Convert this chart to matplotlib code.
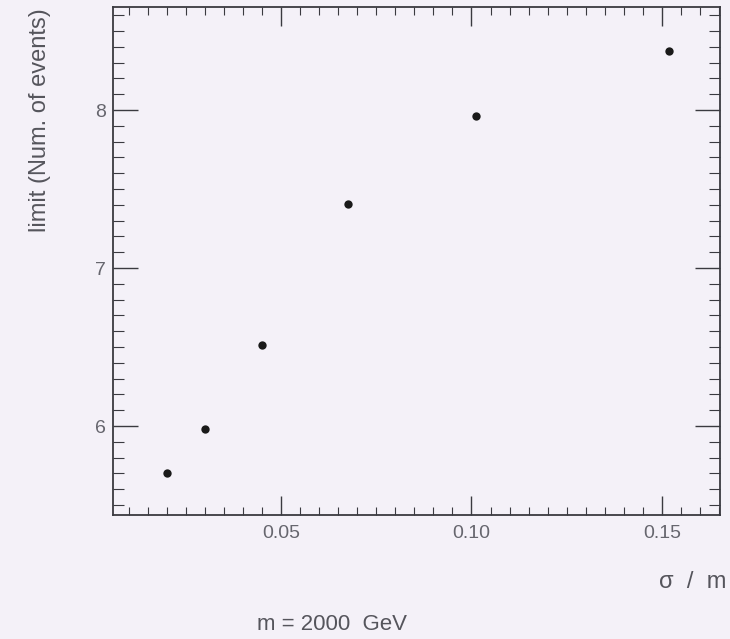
import matplotlib
matplotlib.use("Agg")
import matplotlib.pyplot as plt
from matplotlib.ticker import MultipleLocator, FixedLocator

plt.rcParams['font.family'] = ['Liberation Sans', 'DejaVu Sans']

sigma_over_m = [0.020, 0.030, 0.045, 0.0675, 0.10125, 0.151875]
limit_events = [5.70, 5.98, 6.51, 7.405, 7.96, 8.375]
xtick_vals = [0.05, 0.10, 0.15]
xtick_labels = ["0.05", "0.10", "0.15"]
ytick_vals = [6, 7, 8]
ytick_labels = ["6", "7", "8"]

bg = '#f4f1f8'
fig = plt.figure(figsize=(7.30, 6.39), dpi=100, facecolor=bg)
ax = fig.add_axes([113/730, 1-515/639, (720-113)/730, (515-7)/639], facecolor=bg)

ax.plot(sigma_over_m, limit_events, 'o', color='#1a1a1a', markersize=6, markeredgewidth=0)

ax.set_xlim(0.0058, 0.1653)
ax.set_ylim(5.437, 8.652)

ax.xaxis.set_major_locator(FixedLocator(xtick_vals))
ax.set_xticklabels(xtick_labels)
ax.yaxis.set_major_locator(FixedLocator(ytick_vals))
ax.set_yticklabels(ytick_labels)
ax.xaxis.set_minor_locator(MultipleLocator(0.005))
ax.yaxis.set_minor_locator(MultipleLocator(0.1))

for sp in ax.spines.values():
    sp.set_color('#3a3a40')
    sp.set_linewidth(1.3)

ax.tick_params(axis='both', which='both', direction='in', top=True, right=True,
               color='#3a3a40', labelcolor='#66666e')
ax.tick_params(axis='x', which='major', length=14, width=1.0, pad=7, labelsize=14)
ax.tick_params(axis='x', which='minor', length=6, width=0.8)
ax.tick_params(axis='y', which='major', length=18, width=1.0, pad=5, labelsize=14)
ax.tick_params(axis='y', which='minor', length=8, width=0.8)

fig.text(40/730, 1-8/639, "limit (Num. of events)", rotation=90, ha='center', va='top',
         fontsize=17, color='#55555c')
fig.text(726/730, 1-582/639, "σ  /  m", ha='right', va='center', fontsize=17, color='#55555c')
fig.text(332/730, 1-624/639, "m = 2000  GeV", ha='center', va='center', fontsize=16, color='#55555c')

fig.savefig("out.png", dpi=100, facecolor=bg)
